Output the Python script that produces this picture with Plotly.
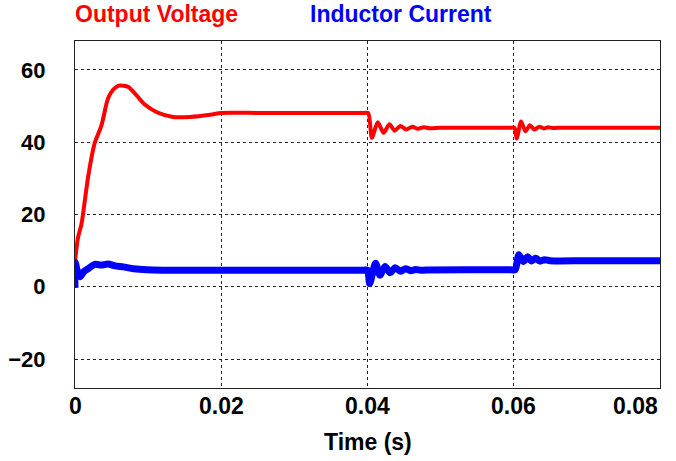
import plotly.graph_objects as go

# ---- data ----
t_vout = [0.0, 0.0004, 0.0009, 0.0018, 0.0027, 0.0036, 0.0045, 0.0052, 0.0059, 0.0066,
          0.0073, 0.0084, 0.0095, 0.0112, 0.0134, 0.0157, 0.0185, 0.02, 0.025, 0.03,
          0.0395, 0.0401, 0.0406, 0.0414, 0.0422, 0.0430, 0.0437, 0.0445, 0.0453, 0.0461,
          0.0469, 0.0477, 0.0485, 0.050, 0.055, 0.0595, 0.0601, 0.0604, 0.0610, 0.0616, 0.0622,
          0.0628, 0.0635, 0.0641, 0.0647, 0.0653, 0.066, 0.07, 0.08]
v_out = [7.0, 13.5, 17.5, 30.5, 39.8, 44.5, 52.0, 54.5, 55.6, 55.6,
         55.3, 53.0, 50.5, 48.3, 47.0, 47.0, 47.6, 48.1, 48.1, 48.1,
         48.1, 48.1, 41.2, 45.5, 42.6, 45.0, 43.2, 44.5, 43.5, 44.3,
         43.7, 44.15, 43.85, 44.0, 44.0, 44.0, 44.0, 41.0, 45.7, 43.0, 44.7,
         43.5, 44.3, 43.8, 44.15, 43.9, 44.0, 44.0, 44.0]

t_il = [0.0, 0.00002, 0.0003, 0.0007, 0.0012, 0.0018, 0.0027, 0.0036, 0.0045, 0.0055,
        0.0066, 0.008, 0.0098, 0.012, 0.02, 0.03, 0.0395, 0.0400, 0.0403, 0.0411, 0.0417,
        0.0424, 0.0431, 0.0438, 0.0445, 0.0452, 0.0459, 0.0466, 0.0473, 0.048, 0.055,
        0.0596, 0.0602, 0.0607, 0.0613, 0.0619, 0.0624, 0.0630, 0.0636, 0.0642, 0.0650, 0.07, 0.08]
i_l = [-0.3, 6.8, 4.5, 2.8, 4.2, 5.0, 6.2, 6.0, 6.3, 5.8,
       5.5, 5.0, 4.7, 4.6, 4.6, 4.6, 4.6, 4.6, 0.9, 6.5, 3.2,
       5.6, 3.9, 5.3, 4.3, 5.0, 4.45, 4.8, 4.55, 4.65, 4.7,
       4.7, 4.7, 8.9, 7.0, 8.3, 7.1, 7.9, 7.1, 7.5, 7.2, 7.2, 7.2]

x_ticks = [0, 0.02, 0.04, 0.06, 0.08]
x_tick_labels = ["0", "0.02", "0.04", "0.06", "0.08"]
y_ticks = [-20, 0, 20, 40, 60]
series_names = ["Output Voltage", "Inductor Current"]

FONT = "Liberation Sans"
FS = 23

fig = go.Figure()
fig.add_trace(go.Scatter(x=t_vout, y=v_out, mode="lines", name=series_names[0],
                         line=dict(color="#ff0000", width=4, shape="spline", smoothing=0.7)))
fig.add_trace(go.Scatter(x=t_il, y=i_l, mode="lines", name=series_names[1],
                         line=dict(color="#0000ff", width=7, shape="spline", smoothing=0.7)))

fig.update_layout(
    width=676, height=461,
    margin=dict(l=75, r=16, t=41, b=73, autoexpand=False),
    paper_bgcolor="white", plot_bgcolor="white",
    showlegend=False,
    font=dict(family=FONT, color="black"),
)
fig.update_xaxes(
    range=[0, 0.08], tickvals=x_ticks, showticklabels=False,
    showgrid=True, gridcolor="#222", gridwidth=1, griddash="3px,3px",
    showline=True, linecolor="#222", linewidth=1, mirror=True,
    zeroline=False, ticks="", automargin=False,
)
fig.update_yaxes(
    range=[-28, 68], tickvals=y_ticks,
    tickfont=dict(family=FONT, size=FS - 1, weight="bold", color="black"),
    ticklabelstandoff=24,
    showgrid=True, gridcolor="#222", gridwidth=1, griddash="3px,3px",
    showline=True, linecolor="#222", linewidth=1, mirror=True,
    zeroline=False, ticks="", automargin=False,
)

# x tick labels (last one right-aligned to the frame, as in the reference)
for i, (xv, lab) in enumerate(zip(x_ticks, x_tick_labels)):
    fig.add_annotation(x=xv, xref="x", y=0, yref="paper", text=lab, showarrow=False,
                       xanchor="right" if i == len(x_ticks) - 1 else "center",
                       yanchor="middle", yshift=-18,
                       font=dict(family=FONT, size=FS, weight="bold", color="black"))

fig.add_annotation(x=0.5, xref="paper", y=0, yref="paper", text="Time (s)",
                   showarrow=False, xanchor="center", yanchor="middle", yshift=-54,
                   font=dict(family=FONT, size=FS, weight="bold", color="black"))

fig.add_annotation(x=0, xref="paper", y=1, yref="paper", text=series_names[0],
                   showarrow=False, xanchor="left", yanchor="middle", yshift=27, xshift=-2,
                   font=dict(family=FONT, size=FS, weight="bold", color="#ff0000"))
fig.add_annotation(x=(310 - 75) / 585, xref="paper", y=1, yref="paper", text=series_names[1],
                   showarrow=False, xanchor="left", yanchor="middle", yshift=27, xshift=-2,
                   font=dict(family=FONT, size=FS, weight="bold", color="#0000ff"))

fig.write_html("out.html", config={"displayModeBar": False},
               post_script="document.body.style.margin='0';")
